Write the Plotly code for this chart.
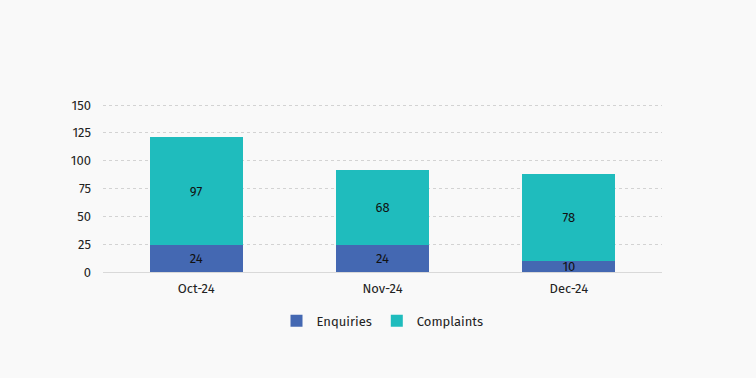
import plotly.graph_objects as go

months = ["Oct-24", "Nov-24", "Dec-24"]
enquiries = [24, 24, 10]
complaints = [97, 68, 78]
y_ticks = [0, 25, 50, 75, 100, 125, 150]

font_family = "Fira Sans, Noto Sans, Open Sans, sans-serif"

fig = go.Figure()
fig.add_trace(go.Bar(
    x=months, y=enquiries, name="Enquiries",
    marker=dict(color="#4468b2", line=dict(width=0)),
    text=[str(v) for v in enquiries], textposition="inside", textangle=0,
    insidetextanchor="middle", textfont=dict(color="#111111", size=13),
    constraintext="none", width=0.5,
))
fig.add_trace(go.Bar(
    x=months, y=complaints, name="Complaints",
    marker=dict(color="#1fbcbd", line=dict(width=0)),
    text=[str(v) for v in complaints], textposition="inside", textangle=0,
    insidetextanchor="middle", textfont=dict(color="#111111", size=13),
    constraintext="none", width=0.5,
))

fig.update_layout(
    barmode="stack",
    width=756, height=378,
    margin=dict(l=103, r=94, t=103, b=106),
    paper_bgcolor="#f9f9f9",
    plot_bgcolor="#f9f9f9",
    font=dict(family=font_family, size=12, color="#333333"),
    uniformtext=dict(mode="show", minsize=8),
    showlegend=True,
    legend=dict(orientation="h", x=0.5, xanchor="center", y=-0.2, yanchor="top",
                font=dict(size=13, color="#222222"), traceorder="normal",
                itemwidth=30),
    xaxis=dict(showgrid=False, showline=True, linecolor="#d9d9d9", ticks="",
               tickfont=dict(size=13, color="#222222"), ticklabelstandoff=4),
    yaxis=dict(range=[0, 151.8], tickvals=y_ticks, showgrid=True,
               gridcolor="#d3d3d3", griddash="dot", zeroline=False,
               tickfont=dict(size=13, color="#222222"), ticklabelstandoff=11),
)

fig.write_html(
    "out.html",
    config={"displayModeBar": False},
    post_script="document.body.style.margin='0';document.body.style.background='#f9f9f9';",
)
